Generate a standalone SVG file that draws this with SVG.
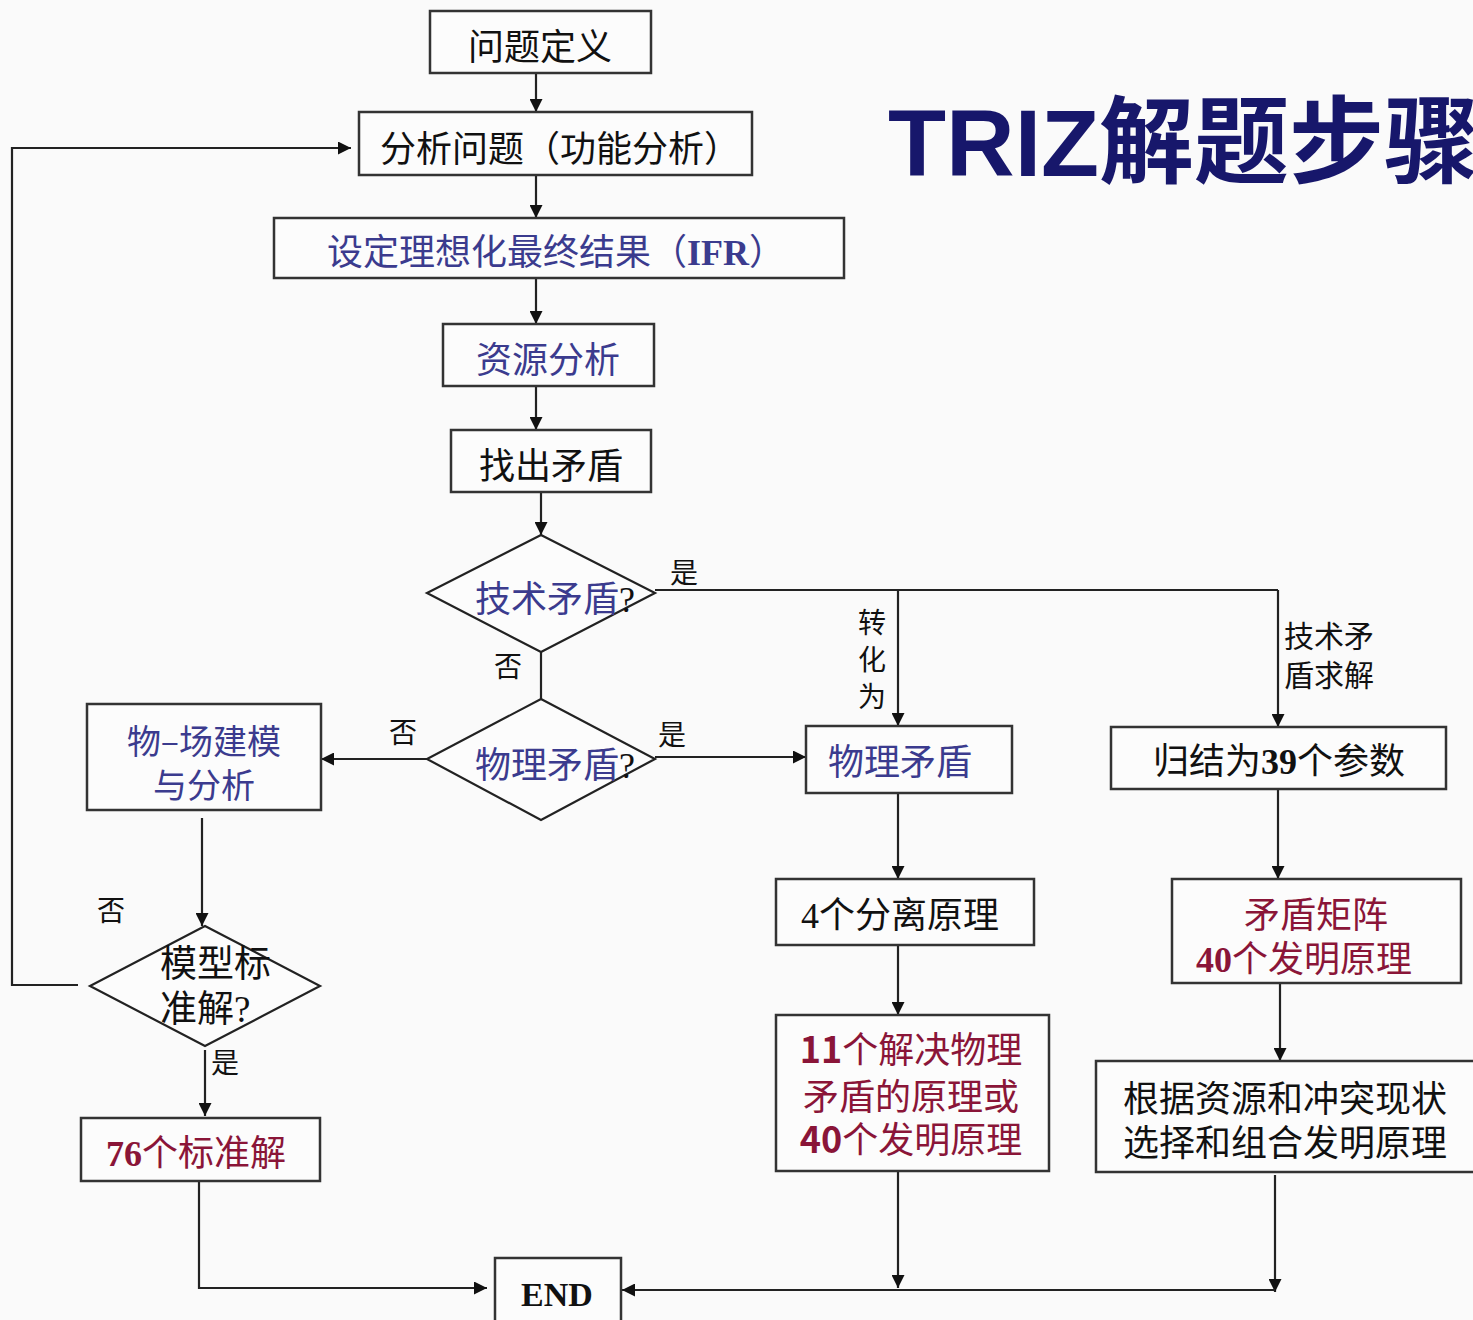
<svg xmlns="http://www.w3.org/2000/svg" width="1473" height="1320" viewBox="0 0 1473 1320">
<style>
.box{fill:#fcfcfc;stroke:#333;stroke-width:2.5}
.dia{fill:#fcfcfc;stroke:#222;stroke-width:2.2}
.ln{fill:none;stroke:#222;stroke-width:2.2}
.arr{marker-end:url(#ah)}
text{font-family:"Noto Sans CJK SC","Noto Sans",sans-serif;font-size:36px;fill:#111}
.c{text-anchor:middle}
.blue{fill:#3b3b8e}
.red{fill:#8a1538}
.lbl{font-size:28px}
.sf{font-family:"Liberation Serif",serif;font-weight:bold}
.title{font-family:"Liberation Sans","Noto Sans CJK SC",sans-serif;font-weight:bold;font-size:95px;fill:#17176b}
</style>
<defs>
<marker id="ah" viewBox="0 0 12 12" refX="12" refY="6" markerWidth="13" markerHeight="13" markerUnits="userSpaceOnUse" orient="auto">
<path d="M0,0 L12,6 L0,12 z" fill="#111"/>
</marker>
</defs>
<rect x="0" y="0" width="1473" height="1320" fill="#fafafa"/>
<text class="title" x="888" y="176">TRIZ解题步骤</text>

<g id="connectors">
<line class="ln arr" x1="536" y1="73" x2="536" y2="112"/>
<line class="ln arr" x1="536" y1="175" x2="536" y2="218"/>
<line class="ln arr" x1="536" y1="278" x2="536" y2="324"/>
<line class="ln arr" x1="536" y1="386" x2="536" y2="430"/>
<line class="ln arr" x1="541" y1="492" x2="541" y2="535"/>
<line class="ln" x1="541" y1="652" x2="541" y2="699"/>
<polyline class="ln" points="655,590 1278,590"/>
<line class="ln arr" x1="898" y1="590" x2="898" y2="726"/>
<line class="ln arr" x1="1278" y1="590" x2="1278" y2="727"/>
<line class="ln arr" x1="655" y1="757" x2="806" y2="757"/>
<line class="ln arr" x1="427" y1="759" x2="321" y2="759"/>
<line class="ln arr" x1="202" y1="818" x2="202" y2="926"/>
<polyline class="ln arr" points="78,985 12,985 12,148 351,148"/>
<line class="ln arr" x1="205" y1="1050" x2="205" y2="1116"/>
<polyline class="ln arr" points="199,1181 199,1288 487,1288"/>
<line class="ln arr" x1="898" y1="793" x2="898" y2="879"/>
<line class="ln arr" x1="898" y1="945" x2="898" y2="1015"/>
<line class="ln arr" x1="1278" y1="789" x2="1278" y2="879"/>
<line class="ln arr" x1="1280" y1="983" x2="1280" y2="1061"/>
<line class="ln arr" x1="898" y1="1171" x2="898" y2="1288"/>
<line class="ln arr" x1="1275" y1="1175" x2="1275" y2="1292"/>
<line class="ln arr" x1="1275" y1="1290" x2="622" y2="1290"/>
<text class="lbl" x="670" y="583">是</text>
<text class="lbl" x="494" y="677">否</text>
<text class="lbl c" x="872" y="633">转</text>
<text class="lbl c" x="872" y="670">化</text>
<text class="lbl c" x="872" y="707">为</text>
<text class="lbl" x="1284" y="647" style="font-size:30px">技术矛</text>
<text class="lbl" x="1284" y="686" style="font-size:30px">盾求解</text>
<text class="lbl" x="389" y="743">否</text>
<text class="lbl" x="658" y="745">是</text>
<text class="lbl" x="97" y="921">否</text>
<text class="lbl" x="211" y="1073">是</text>
</g>

<g id="n1"><rect class="box" x="430" y="11" width="221" height="62"/><text class="c" x="540" y="60">问题定义</text></g>
<g id="n2"><rect class="box" x="359" y="112" width="393" height="63"/><text class="c" x="560" y="162">分析问题（功能分析）</text></g>
<g id="n3"><rect class="box" x="274" y="218" width="570" height="60"/><text class="c blue" x="556" y="265">设定理想化最终结果（<tspan class="sf">IFR</tspan>）</text></g>
<g id="n4"><rect class="box" x="443" y="324" width="211" height="62"/><text class="c blue" x="548" y="373">资源分析</text></g>
<g id="n5"><rect class="box" x="451" y="430" width="200" height="62"/><text class="c" x="551" y="479">找出矛盾</text></g>
<g id="d1"><polygon class="dia" points="541,535 655,593 541,652 427,593"/><text class="blue" x="475" y="612">技术矛盾<tspan class="sf" style="font-weight:normal" fill="#111">?</tspan></text></g>
<g id="d2"><polygon class="dia" points="541,699 655,759 541,820 427,759"/><text class="blue" x="475" y="778">物理矛盾<tspan class="sf" style="font-weight:normal" fill="#111">?</tspan></text></g>
<g id="n6"><rect class="box" x="87" y="704" width="234" height="106"/><text class="c blue" x="204" y="754" style="font-size:34px">物–场建模</text><text class="c blue" x="204" y="798" style="font-size:34px">与分析</text></g>
<g id="d3"><polygon class="dia" points="205,926 320,986 205,1046 90,986"/><text x="160" y="977" style="font-size:37px">模型标</text><text x="160" y="1022" style="font-size:37px">准解<tspan class="sf" style="font-weight:normal">?</tspan></text></g>
<g id="n7"><rect class="box" x="81" y="1118" width="239" height="63"/><text class="c red" x="196" y="1166"><tspan class="sf">76</tspan>个标准解</text></g>
<g id="n8"><rect class="box" x="806" y="726" width="206" height="67"/><text class="c blue" x="900" y="775">物理矛盾</text></g>
<g id="n9"><rect class="box" x="1111" y="727" width="335" height="62"/><text class="c" x="1279" y="774">归结为<tspan class="sf">39</tspan>个参数</text></g>
<g id="n10"><rect class="box" x="776" y="879" width="258" height="66"/><text class="c" x="900" y="928"><tspan class="sf" style="font-weight:normal">4</tspan>个分离原理</text></g>
<g id="n11"><rect class="box" x="1172" y="879" width="289" height="104"/><text class="c red" x="1316" y="928">矛盾矩阵</text><text class="c red" x="1304" y="972"><tspan class="sf">40</tspan>个发明原理</text></g>
<g id="n12"><rect class="box" x="776" y="1015" width="273" height="156"/><text class="c red" x="911" y="1063"><tspan font-weight="bold">11</tspan>个解决物理</text><text class="c red" x="911" y="1110">矛盾的原理或</text><text class="c red" x="911" y="1153"><tspan font-weight="bold">40</tspan>个发明原理</text></g>
<g id="n13"><rect class="box" x="1096" y="1061" width="380" height="111"/><text class="c" x="1285" y="1112">根据资源和冲突现状</text><text class="c" x="1285" y="1156">选择和组合发明原理</text></g>
<g id="n14"><rect class="box" x="495" y="1258" width="126" height="64"/><text class="c sf" x="557" y="1306" style="font-size:34px">END</text></g>
</svg>
